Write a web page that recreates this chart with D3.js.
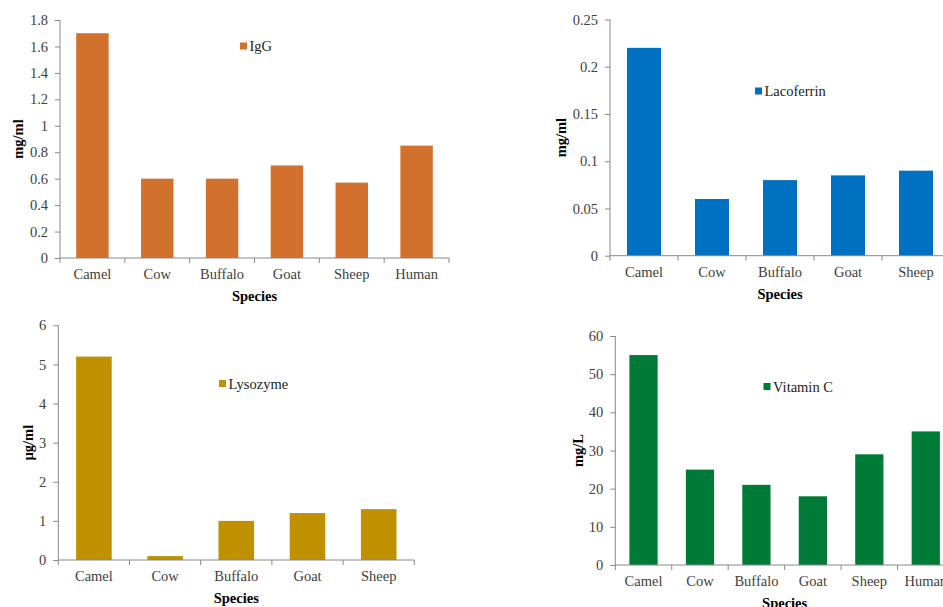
<!DOCTYPE html>
<html>
<head>
<meta charset="utf-8">
<script src="https://cdn.jsdelivr.net/npm/d3@7"></script>
<style>
body{margin:0;background:#fff;}
svg{display:block;overflow:hidden;}
text{font-family:"Liberation Serif","Times New Roman",serif;}
</style>
</head>
<body>
<svg id="chart" width="943" height="607"></svg>
<script>
// data
var species6=['Camel','Cow','Buffalo','Goat','Sheep','Human'];
var species5=['Camel','Cow','Buffalo','Goat','Sheep'];
var iggValues=[1.7,0.6,0.6,0.7,0.57,0.85];
var lacoValues=[0.22,0.06,0.08,0.085,0.09];
var lysoValues=[5.2,0.1,1.0,1.2,1.3];
var vitcValues=[55,25,21,18,29,35];
var iggTicks=[0,0.2,0.4,0.6,0.8,1,1.2,1.4,1.6,1.8];
var lacoTicks=[0,0.05,0.1,0.15,0.2,0.25];
var lysoTicks=[0,1,2,3,4,5,6];
var vitcTicks=[0,10,20,30,40,50,60];

// layout of the four panels
var panels=[
	{cats:species6,vals:iggValues,ticks:iggTicks,name:'IgG',unit:'mg/ml',color:'#D2702D',
		l:60,t:20,b:258,r:449,ylx:18,lgx:240,lgy:46},
	{cats:species5,vals:lacoValues,ticks:lacoTicks,name:'Lacoferrin',unit:'mg/ml',color:'#0070C0',
		l:610,t:19.5,b:255.7,r:950,ylx:561,lgx:755,lgy:91},
	{cats:species5,vals:lysoValues,ticks:lysoTicks,name:'Lysozyme',unit:'\u00b5g/ml',color:'#BF9000',
		l:58.3,t:325.3,b:560,r:414.3,ylx:28,lgx:219,lgy:383.5},
	{cats:species6,vals:vitcValues,ticks:vitcTicks,name:'Vitamin C',unit:'mg/L',color:'#007A37',
		l:615.3,t:336,b:565,r:954,ylx:578,lgx:763.5,lgy:386.5}
];

var svg=d3.select('#chart');
var AX='#888888', TX='#404040';

panels.forEach(function(p){
	var g=svg.append('g');
	var x=d3.scaleBand().domain(p.cats).range([p.l,p.r]).paddingInner(0.5).paddingOuter(0.25);
	var y=d3.scaleLinear().domain([0,d3.max(p.ticks)]).range([p.b,p.t]);

	// bars
	g.selectAll('rect.bar').data(p.vals).enter().append('rect')
		.attr('class','bar')
		.attr('x',function(d,i){return x(p.cats[i]);})
		.attr('width',x.bandwidth())
		.attr('y',function(d){return y(d);})
		.attr('height',function(d){return y(0)-y(d);})
		.attr('fill',p.color);

	// y axis
	var ya=g.append('g').attr('transform','translate('+p.l+',0)')
		.call(d3.axisLeft(y).tickValues(p.ticks).tickSize(5).tickPadding(7)
			.tickFormat(function(d){return String(+d.toFixed(3));}));
	ya.select('.domain').attr('stroke',AX).attr('d','M0,'+p.b+'V'+p.t);
	ya.selectAll('.tick line').attr('stroke',AX);
	ya.selectAll('.tick text').attr('fill',TX).style('font-size','14.5px')
		.style('font-family','"Liberation Serif",serif');

	// x axis: labels at centers, ticks at band edges
	var xa=g.append('g').attr('transform','translate(0,'+p.b+')')
		.call(d3.axisBottom(x).tickSize(0).tickPadding(11));
	xa.select('.domain').remove();
	xa.selectAll('.tick text').attr('fill',TX).style('font-size','14.5px')
		.style('font-family','"Liberation Serif",serif');
	var edges=p.cats.map(function(c){return x(c)-x.step()*0.25;}).concat([p.r]);
	g.append('line').attr('x1',p.l).attr('x2',p.r).attr('y1',p.b).attr('y2',p.b)
		.attr('stroke',AX);
	g.selectAll('line.xt').data(edges).enter().append('line')
		.attr('class','xt')
		.attr('x1',function(d){return d;}).attr('x2',function(d){return d;})
		.attr('y1',p.b).attr('y2',p.b+5).attr('stroke',AX);

	// axis titles
	g.append('text').attr('x',(p.l+p.r)/2).attr('y',p.b+38)
		.attr('text-anchor','middle').attr('dominant-baseline','central')
		.style('font-size','14.5px').style('font-weight','bold').text('Species');
	g.append('text')
		.attr('transform','translate('+p.ylx+','+((p.t+p.b)/2)+') rotate(-90)')
		.attr('text-anchor','middle').attr('dominant-baseline','central')
		.style('font-size','14.5px').style('font-weight','bold').text(p.unit);

	// legend
	g.append('rect').attr('x',p.lgx).attr('y',p.lgy-3.5).attr('width',7).attr('height',7)
		.attr('fill',p.color);
	g.append('text').attr('x',p.lgx+9.5).attr('y',p.lgy)
		.attr('dominant-baseline','central').attr('fill','#222')
		.style('font-size','14.5px').text(p.name);
});
</script>
</body>
</html>
